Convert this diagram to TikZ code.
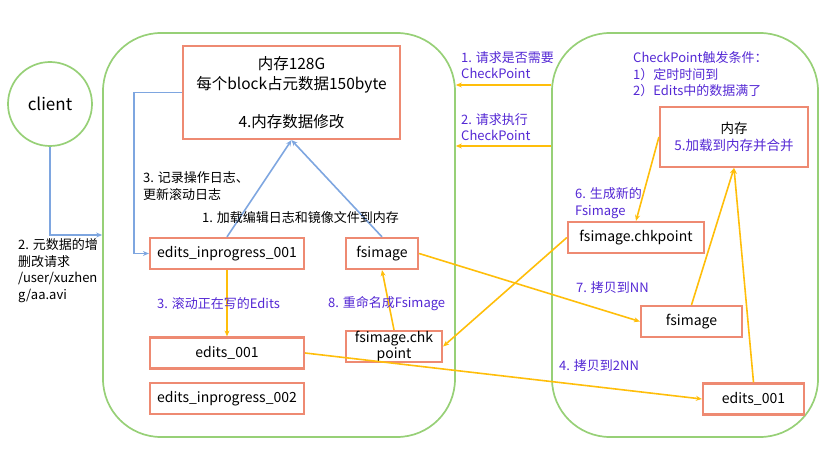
\documentclass[tikz,border=0pt]{standalone}
\usepackage{fontspec}
\setmainfont{Noto Sans CJK SC}
\usetikzlibrary{arrows.meta,calc}
\definecolor{grn}{HTML}{97D077}
\definecolor{sal}{HTML}{EE8A72}
\definecolor{ylw}{HTML}{FFBE0A}
\definecolor{blu}{HTML}{7EA6E0}
\definecolor{pur}{HTML}{5428D4}
\begin{document}
\begin{tikzpicture}[x=1pt,y=-1pt,
  container/.style={draw=grn,line width=1.7pt,rounded corners=58pt},
  box/.style={draw=sal,line width=2.2pt,inner sep=0pt,font=\fontsize{14}{16}\selectfont},
  lbl/.style={inner sep=0pt,align=left,font=\fontsize{13}{16.5}\selectfont},
  plbl/.style={lbl,text=pur},
  barr/.style={draw=blu,line width=1.6pt,-{Stealth[length=6pt,width=5pt]}},
  yarr/.style={draw=ylw,line width=1.6pt,-{Stealth[length=6pt,width=5pt]}}]
\useasboundingbox (0,0) rectangle (837,465);
% containers
\node[container,minimum width=352pt,minimum height=404pt] (nn) at (279,235) {};
\node[container,minimum width=266pt,minimum height=404pt] (snn) at (685,235) {};
\node[draw=grn,line width=1.7pt,circle,minimum size=84pt,inner sep=0pt,font=\fontsize{17}{18}\selectfont] (client) at (50,104) {client};
% left boxes
\node[box,minimum width=217pt,minimum height=93pt,align=center,font=\fontsize{15.5}{20}\selectfont] (mem) at (291.5,92.5) {内存128G\\每个block占元数据150byte\\[18pt]4.内存数据修改};
\node[box,minimum width=154pt,minimum height=31pt] (ei1) at (227,253.5) {edits\_inprogress\_001};
\node[box,minimum width=72pt,minimum height=31pt] (fsL) at (382,253.5) {fsimage};
\node[box,minimum width=154pt,minimum height=31pt] (e1L) at (227,353) {edits\_001};
\node[box,minimum width=154pt,minimum height=31pt] (ei2) at (227,398.5) {edits\_inprogress\_002};
\node[box,minimum width=96pt,minimum height=31pt,align=center] (fsc) at (394,346.5) {fsimage.chk\\point};
% right boxes
\node[box,minimum width=148pt,minimum height=60pt,align=center,font=\fontsize{13.5}{17}\selectfont] (mem2) at (734,137) {内存\\\textcolor{pur}{5.加载到内存并合并}};
\node[box,minimum width=136pt,minimum height=31pt] (fsc2) at (636,237.5) {fsimage.chkpoint};
\node[box,minimum width=101pt,minimum height=31pt] (fsR) at (691.5,321.5) {fsimage};
\node[box,minimum width=101pt,minimum height=31pt] (e1R) at (753.5,399) {edits\_001};
% blue connectors
\coordinate (bendA) at (134,92.5);
\draw[barr] (client.south) |- (nn.west);
\draw[barr] (mem.west) -- (bendA) |- (ei1.west);
\draw[barr] (ei1.north) -- (mem.south);
\draw[barr] (fsL.north) -- (mem.south);
% yellow connectors
\draw[yarr] (ei1.south) -- (e1L.north);
\draw[yarr] (fsc.north) -- (fsL.south);
\draw[yarr] ($(snn.west)+(0,-150)$) -- ($(nn.east)+(0,-150)$);
\draw[yarr] ($(snn.west)+(0,-89)$) -- ($(nn.east)+(0,-89)$);
\draw[yarr] (mem2.west) -- (fsc2.north);
\draw[yarr] (fsR.north) -- (mem2.south);
\draw[yarr] (e1R.north) -- (mem2.south);
\draw[yarr] (fsc2.west) -- (fsc.east);
\draw[yarr] (fsL.east) -- (fsR.west);
\draw[yarr] (e1L.east) -- (e1R.west);
% labels
\node[lbl,anchor=north west] (t2) at (18,238.5) {2. 元数据的增\\删改请求\\/user/xuzhen\\g/aa.avi};
\node[lbl,anchor=north west] (t3) at (143,171.5) {3. 记录操作日志、\\更新滚动日志};
\node[lbl,anchor=west] (t1) at (202,218) {1. 加载编辑日志和镜像文件到内存};
\node[plbl,anchor=west] (t3b) at (157,304) {3. 滚动正在写的Edits};
\node[plbl,anchor=west] (t8) at (328,304) {8. 重命名成Fsimage};
\node[plbl,anchor=north west] (r1) at (461,51) {1. 请求是否需要\\CheckPoint};
\node[plbl,anchor=north west] (r2) at (461,113) {2. 请求执行\\CheckPoint};
\node[plbl,anchor=north west] (cp) at (633,51.5) {CheckPoint触发条件：\\1）定时时间到\\2）Edits中的数据满了};
\node[plbl,anchor=north west] (t6) at (575,187.5) {6. 生成新的\\Fsimage};
\node[plbl,anchor=west] (t7) at (576,288) {7. 拷贝到NN};
\node[plbl,anchor=west] (t4) at (559,366) {4. 拷贝到2NN};
\end{tikzpicture}
\end{document}
